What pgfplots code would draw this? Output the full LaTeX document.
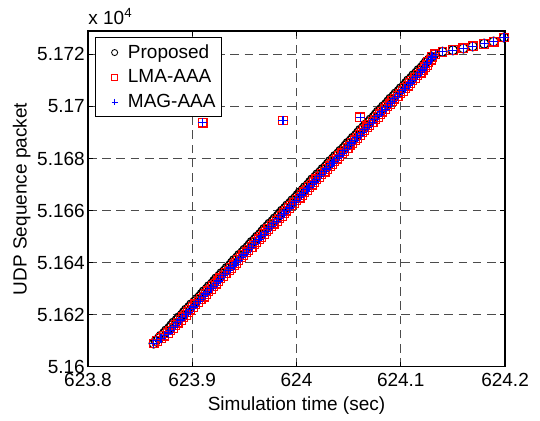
\documentclass[border=0pt]{standalone}
\usepackage{pgfplots}
\pgfplotsset{compat=1.18}
\usepackage{pgfplotstable}
\usepackage{fontspec}
\setmainfont{Liberation Sans}

% packets received in the dense part: sequence number, time (Proposed), time (LMA/MAG)
\pgfplotstableread{
seq tp tl
51609 623.863 623.863
51610 623.865 623.866
51611 623.868 623.870
51612 623.870 623.873
51613 623.873 623.877
51614 623.875 623.879
51615 623.878 623.882
51616 623.880 623.884
51617 623.882 623.886
51618 623.885 623.889
51619 623.887 623.891
51620 623.890 623.894
51621 623.892 623.896
51622 623.894 623.898
51623 623.897 623.901
51624 623.899 623.903
51625 623.902 623.906
51626 623.904 623.908
51627 623.907 623.911
51628 623.909 623.913
51629 623.911 623.915
51630 623.914 623.918
51631 623.916 623.920
51632 623.919 623.923
51633 623.921 623.925
51634 623.923 623.927
51635 623.926 623.930
51636 623.928 623.932
51637 623.931 623.935
51638 623.933 623.937
51639 623.936 623.940
51640 623.938 623.942
51641 623.940 623.944
51642 623.943 623.947
51643 623.945 623.949
51644 623.948 623.952
51645 623.950 623.954
51646 623.953 623.957
51647 623.955 623.959
51648 623.957 623.961
51649 623.960 623.964
51650 623.962 623.966
51651 623.965 623.969
51652 623.967 623.971
51653 623.969 623.973
51654 623.972 623.976
51655 623.974 623.978
51656 623.977 623.981
51657 623.979 623.983
51658 623.982 623.986
51659 623.984 623.988
51660 623.986 623.990
51661 623.989 623.993
51662 623.991 623.995
51663 623.994 623.998
51664 623.996 624.000
51665 623.999 624.003
51666 624.001 624.005
51667 624.003 624.007
51668 624.006 624.010
51669 624.008 624.012
51670 624.011 624.015
51671 624.013 624.017
51672 624.015 624.019
51673 624.018 624.022
51674 624.020 624.024
51675 624.023 624.027
51676 624.025 624.029
51677 624.028 624.032
51678 624.030 624.034
51679 624.032 624.036
51680 624.035 624.039
51681 624.037 624.041
51682 624.040 624.044
51683 624.042 624.046
51684 624.045 624.049
51685 624.047 624.051
51686 624.049 624.053
51687 624.052 624.056
51688 624.054 624.058
51689 624.057 624.061
51690 624.059 624.063
51691 624.061 624.065
51692 624.064 624.068
51693 624.066 624.070
51694 624.069 624.073
51695 624.071 624.075
51696 624.074 624.078
51697 624.076 624.080
51698 624.078 624.082
51699 624.081 624.085
51700 624.083 624.087
51701 624.086 624.090
51702 624.088 624.092
51703 624.090 624.094
51704 624.093 624.097
51705 624.095 624.099
51706 624.098 624.102
51707 624.100 624.104
51708 624.103 624.107
51709 624.105 624.109
51710 624.107 624.111
51711 624.110 624.114
51712 624.112 624.116
51713 624.115 624.119
51714 624.117 624.121
51715 624.120 624.123
51716 624.122 624.125
51717 624.124 624.126
51718 624.127 624.129
51719 624.129 624.130
51720 624.132 624.133
}\dense

% sparse tail, same for all three
\pgfplotstableread{
t seq
624.140 51721.0
624.150 51721.6
624.160 51722.3
624.169 51723.1
624.180 51724.1
624.189 51724.9
624.199 51726.5
}\tail

% late packets, LMA-AAA and MAG-AAA only
\pgfplotstableread{
t seq
623.910 51693.8
623.987 51694.6
624.061 51695.8
}\late

\pgfplotsset{
  prop/.style={only marks, mark=o, black, mark size=2.4pt, line width=0.6pt},
  lma/.style={only marks, mark=square, red, mark size=2.3pt, line width=0.6pt},
  mag/.style={only marks, mark=+, blue, mark size=2.4pt, line width=0.6pt},
}

\begin{document}
\begin{tikzpicture}
\begin{axis}[
    scale only axis,
    width=219.5pt,
    height=176.8pt,
    xmin=623.8, xmax=624.2,
    ymin=51600, ymax=51729,
    xtick={623.8,623.9,624,624.1,624.2},
    ytick={51600,51620,51640,51660,51680,51700,51720},
    scaled x ticks=false,
    scaled y ticks=base 10:-4,
    ytick scale label code/.code={},
    /pgf/number format/assume math mode=true,
    yticklabel style={inner sep=1.5pt, /pgf/number format/fixed,
        /pgf/number format/precision=3},
    grid=major,
    major grid style={black!70, line width=0.5pt, dash pattern=on 4.5pt off 3pt},
    tick align=inside,
    major tick length=2.8pt,
    every tick/.style={black, line width=0.5pt},
    axis line style={line width=0.6pt},
    xlabel={Simulation time (sec)},
    ylabel={UDP Sequence packet},
    xlabel style={yshift=2pt},
    ylabel shift=-1.5pt,
    legend style={at={(0.017,0.982)}, anchor=north west, draw=black,
        line width=0.6pt, row sep=0.5pt, inner xsep=1pt, inner ysep=1.5pt},
    legend image code/.code={
        \draw[draw=none] (-9pt,0pt) -- (5pt,0pt);
        \draw[#1, mark size=1.6pt, line width=0.45pt] plot coordinates {(0pt,0pt)};
    },
    legend cell align=left,
    clip=false,
]
\addplot[prop] table[x=tp, y=seq] {\dense};
\addplot[lma] table[x=tl, y=seq] {\dense};
\addplot[mag] table[x=tl, y=seq] {\dense};
\addplot[prop, forget plot] table[x=t, y=seq] {\tail};
\addplot[lma, forget plot] table[x=t, y=seq] {\tail};
\addplot[mag, forget plot] table[x=t, y=seq] {\tail};
\addplot[lma, forget plot] table[x=t, y=seq] {\late};
\addplot[mag, forget plot] table[x=t, y=seq] {\late};
\legend{Proposed, LMA-AAA, MAG-AAA}
\node[anchor=base west, inner sep=0pt] at ([yshift=3.2pt]rel axis cs:0,1) {x 10\textsuperscript{4}};
\coordinate (A) at (rel axis cs:0,0);
\coordinate (B) at (rel axis cs:1,1);
\end{axis}
\path ([shift={(-46.3pt,-24.7pt)}]A) rectangle ([shift={(18.4pt,16.3pt)}]B);
\end{tikzpicture}
\end{document}
